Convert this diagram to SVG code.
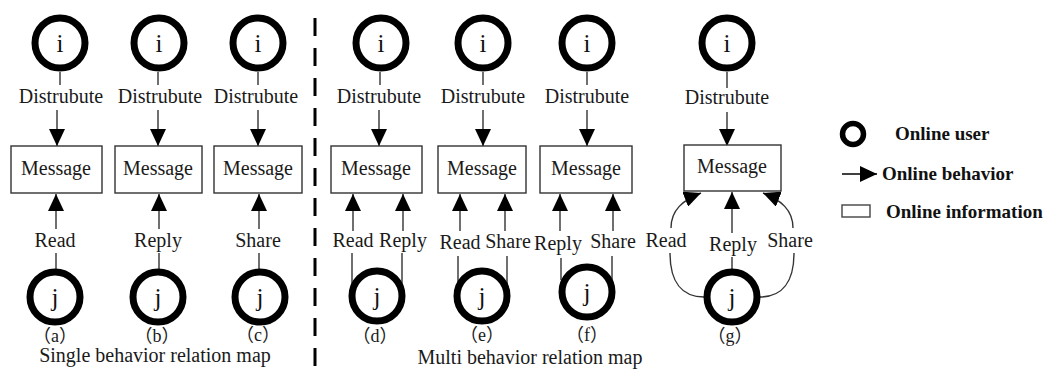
<svg xmlns="http://www.w3.org/2000/svg" width="1049" height="373" viewBox="0 0 1049 373">
<style>
.u{fill:none;stroke:#000;stroke-width:7}
.uc{font-family:"Liberation Serif",serif;font-size:25px;fill:#111;text-anchor:middle}
.box{fill:#fff;stroke:#333;stroke-width:1.4}
.t{font-family:"Liberation Serif",serif;font-size:20px;fill:#1a1a1a;text-anchor:middle}
.p{font-family:"Liberation Serif","Noto Sans CJK SC",serif;font-size:18px;fill:#1a1a1a;text-anchor:middle}
.ln{fill:none;stroke:#333;stroke-width:1.4}
.ar{fill:none;stroke:#333;stroke-width:1.4;marker-end:url(#ah)}
.lg{font-family:"Liberation Serif",serif;font-size:19px;font-weight:bold;fill:#111}
</style>
<defs>
<marker id="ah" markerUnits="userSpaceOnUse" markerWidth="17" markerHeight="16" refX="17" refY="8" orient="auto">
<path d="M0,0 L17,8 L0,16 z" fill="#000"/>
</marker>
</defs>
<rect width="1049" height="373" fill="#fff"/>
<line x1="315" y1="18" x2="315" y2="373" stroke="#000" stroke-width="3" stroke-dasharray="18 12"/>
<g id="connectors">
<line class="ln" x1="60" y1="72" x2="60" y2="85"/>
<line class="ar" x1="57" y1="110" x2="57" y2="146"/>
<line class="ar" x1="56" y1="229" x2="56" y2="194"/>
<line class="ln" x1="56" y1="253" x2="56" y2="269"/>
<line class="ln" x1="158" y1="72" x2="158" y2="85"/>
<line class="ar" x1="158" y1="110" x2="158" y2="146"/>
<line class="ar" x1="159" y1="229" x2="159" y2="194"/>
<line class="ln" x1="159" y1="253" x2="159" y2="269"/>
<line class="ln" x1="258" y1="72" x2="258" y2="85"/>
<line class="ar" x1="258" y1="110" x2="258" y2="146"/>
<line class="ar" x1="259" y1="229" x2="259" y2="194"/>
<line class="ln" x1="259" y1="253" x2="259" y2="269"/>
<line class="ln" x1="380" y1="72" x2="380" y2="85"/>
<line class="ar" x1="379" y1="110" x2="379" y2="146"/>
<line class="ar" x1="353" y1="231" x2="353" y2="194"/>
<line class="ar" x1="403" y1="231" x2="403" y2="194"/>
<line class="ln" x1="352" y1="253" x2="352" y2="285"/>
<line class="ln" x1="402" y1="253" x2="402" y2="285"/>
<line class="ln" x1="483" y1="72" x2="483" y2="85"/>
<line class="ar" x1="483" y1="110" x2="483" y2="146"/>
<line class="ar" x1="460" y1="231" x2="460" y2="194"/>
<line class="ar" x1="505" y1="231" x2="505" y2="194"/>
<line class="ln" x1="458" y1="256" x2="458" y2="285"/>
<line class="ln" x1="507" y1="256" x2="507" y2="285"/>
<line class="ln" x1="587" y1="72" x2="587" y2="85"/>
<line class="ar" x1="587" y1="110" x2="587" y2="146"/>
<line class="ar" x1="560" y1="231" x2="560" y2="194"/>
<line class="ar" x1="613" y1="231" x2="613" y2="194"/>
<line class="ln" x1="561" y1="258" x2="561" y2="280"/>
<line class="ln" x1="612" y1="256" x2="612" y2="280"/>
<line class="ln" x1="727" y1="72" x2="727" y2="88"/>
<line class="ar" x1="727" y1="112" x2="727" y2="146"/>
<line class="ar" x1="732" y1="233" x2="732" y2="192"/>
<line class="ln" x1="732" y1="257" x2="732" y2="269"/>
<path class="ln" d="M704,297 C682,297 670,282 670,253"/>
<path class="ar" d="M671,228 C671,210 683,200 701,193"/>
<path class="ln" d="M760,297 C782,297 794,282 794,253"/>
<path class="ar" d="M793,228 C793,210 781,200 763,193"/>
</g>
<g id="labels">
<text class="t" x="61" y="103">Distrubute</text>
<text class="t" x="160" y="103">Distrubute</text>
<text class="t" x="256" y="103">Distrubute</text>
<text class="t" x="379" y="103">Distrubute</text>
<text class="t" x="483" y="103">Distrubute</text>
<text class="t" x="587" y="103">Distrubute</text>
<text class="t" x="727" y="104">Distrubute</text>
<text class="t" x="55" y="247">Read</text>
<text class="t" x="158" y="247">Reply</text>
<text class="t" x="258" y="247">Share</text>
<text class="t" x="353" y="247">Read</text>
<text class="t" x="403" y="247">Reply</text>
<text class="t" x="460" y="249">Read</text>
<text class="t" x="508" y="248">Share</text>
<text class="t" x="558" y="250">Reply</text>
<text class="t" x="613" y="248">Share</text>
<text class="t" x="666" y="247">Read</text>
<text class="t" x="733" y="251">Reply</text>
<text class="t" x="790" y="247">Share</text>
<text class="p" x="55" y="342">（a）</text>
<text class="p" x="157" y="342">（b）</text>
<text class="p" x="258" y="341">（c）</text>
<text class="p" x="375" y="342">（d）</text>
<text class="p" x="482" y="341">（e）</text>
<text class="p" x="587" y="341">（f）</text>
<text class="p" x="730" y="342">（g）</text>
<text class="t" x="155" y="362">Single behavior relation map</text>
<text class="t" x="530" y="364">Multi behavior relation map</text>
</g>
<g id="node-a-i"><circle class="u" cx="60" cy="43" r="25"/><text class="uc" x="60" y="52">i</text></g>
<g id="node-a-msg"><rect class="box" x="11" y="146" width="91" height="47"/><text class="t" x="56" y="175">Message</text></g>
<g id="node-a-j"><circle class="u" cx="55" cy="297" r="25"/><text class="uc" x="55" y="306">j</text></g>
<g id="node-b-i"><circle class="u" cx="159" cy="43" r="25"/><text class="uc" x="159" y="52">i</text></g>
<g id="node-b-msg"><rect class="box" x="115" y="146" width="87" height="47"/><text class="t" x="158" y="175">Message</text></g>
<g id="node-b-j"><circle class="u" cx="158" cy="297" r="25"/><text class="uc" x="158" y="306">j</text></g>
<g id="node-c-i"><circle class="u" cx="258" cy="43" r="25"/><text class="uc" x="258" y="52">i</text></g>
<g id="node-c-msg"><rect class="box" x="214" y="146" width="88" height="47"/><text class="t" x="258" y="175">Message</text></g>
<g id="node-c-j"><circle class="u" cx="260" cy="297" r="25"/><text class="uc" x="260" y="306">j</text></g>
<g id="node-d-i"><circle class="u" cx="381" cy="43" r="25"/><text class="uc" x="381" y="52">i</text></g>
<g id="node-d-msg"><rect class="box" x="331" y="146" width="91" height="47"/><text class="t" x="376" y="175">Message</text></g>
<g id="node-d-j"><circle class="u" cx="377" cy="296" r="25"/><text class="uc" x="377" y="305">j</text></g>
<g id="node-e-i"><circle class="u" cx="483" cy="43" r="25"/><text class="uc" x="483" y="52">i</text></g>
<g id="node-e-msg"><rect class="box" x="438" y="146" width="88" height="47"/><text class="t" x="482" y="175">Message</text></g>
<g id="node-e-j"><circle class="u" cx="482" cy="296" r="25"/><text class="uc" x="482" y="305">j</text></g>
<g id="node-f-i"><circle class="u" cx="587" cy="43" r="25"/><text class="uc" x="587" y="52">i</text></g>
<g id="node-f-msg"><rect class="box" x="540" y="146" width="92" height="47"/><text class="t" x="586" y="175">Message</text></g>
<g id="node-f-j"><circle class="u" cx="587" cy="292" r="25"/><text class="uc" x="587" y="301">j</text></g>
<g id="node-g-i"><circle class="u" cx="727" cy="43" r="25"/><text class="uc" x="727" y="52">i</text></g>
<g id="node-g-msg"><rect class="box" x="684" y="145" width="97" height="46"/><text class="t" x="732" y="173">Message</text></g>
<g id="node-g-j"><circle class="u" cx="732" cy="297" r="25"/><text class="uc" x="732" y="306">j</text></g>
<g id="legend">
<circle cx="853" cy="134" r="10.5" fill="none" stroke="#000" stroke-width="5.5"/>
<text class="lg" x="895" y="140">Online user</text>
<line x1="842" y1="174" x2="877" y2="174" stroke="#000" stroke-width="1.5" marker-end="url(#ah)"/>
<text class="lg" x="882" y="180">Online behavior</text>
<rect x="842" y="205" width="28" height="12" fill="#fff" stroke="#444" stroke-width="1.4"/>
<text class="lg" x="886" y="218">Online information</text>
</g>
</svg>
